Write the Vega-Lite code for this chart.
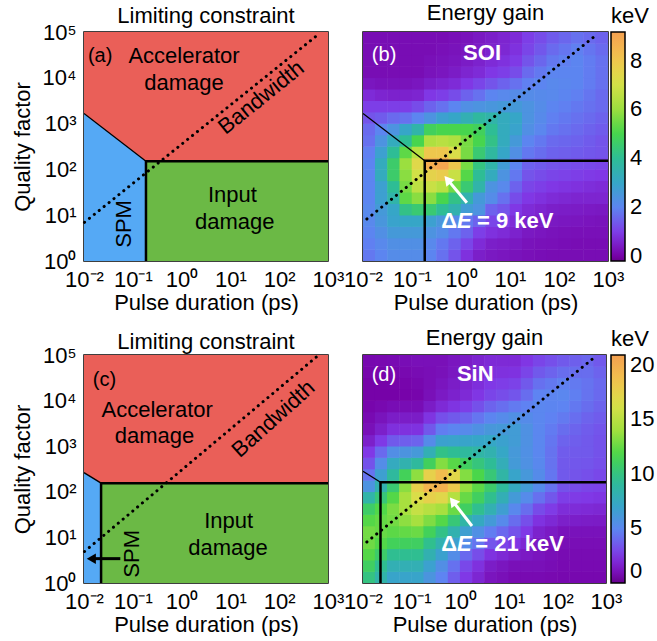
{
"$schema":"https://vega.github.io/schema/vega-lite/v6.json",
"background":"white",
"padding":{"left":10,"top":0,"right":0,"bottom":0},
"bounds":"flush",
"columns":2,
"spacing":{"row":94,"column":35},
"config":{
 "font":"Liberation Sans",
 "view":{"stroke":"black","strokeWidth":1.5},
 "axis":{"ticks":false,"domain":false,"grid":false,"labelFontSize":22,"titleFontSize":22,"titleFontWeight":"normal","labelFont":"Liberation Sans","titleFont":"Liberation Sans","labelColor":"black","titleColor":"black","labelPadding":8,"titlePadding":2,"labelFlush":false,"labelOverlap":false},
 "axisY":{"titlePadding":8,"labelPadding":8},
 "title":{"fontSize":22,"fontWeight":"normal","font":"Liberation Sans","baseline":"alphabetic","anchor":"middle","color":"black","frame":"group"},
 "text":{"font":"Liberation Sans"}
},
"datasets":{
"heatB":[
{"t":-1.875,"q":0.125,"e":1.8},{"t":-1.875,"q":0.375,"e":1.9},{"t":-1.875,"q":0.625,"e":2.0},{"t":-1.875,"q":0.875,"e":2.1},{"t":-1.875,"q":1.125,"e":2.1},{"t":-1.875,"q":1.375,"e":2.0},{"t":-1.875,"q":1.625,"e":2.0},{"t":-1.875,"q":1.875,"e":2.0},{"t":-1.875,"q":2.125,"e":2.0},{"t":-1.875,"q":2.375,"e":1.9},{"t":-1.875,"q":2.625,"e":1.7},{"t":-1.875,"q":2.875,"e":1.6},{"t":-1.875,"q":3.125,"e":1.3},{"t":-1.875,"q":3.375,"e":1.0},{"t":-1.875,"q":3.625,"e":0.7},{"t":-1.875,"q":3.875,"e":0.35},{"t":-1.875,"q":4.125,"e":0.2},{"t":-1.875,"q":4.375,"e":0.2},{"t":-1.875,"q":4.625,"e":0.2},{"t":-1.875,"q":4.875,"e":0.2},
{"t":-1.625,"q":0.125,"e":2.0},{"t":-1.625,"q":0.375,"e":2.1},{"t":-1.625,"q":0.625,"e":2.3},{"t":-1.625,"q":0.875,"e":2.5},{"t":-1.625,"q":1.125,"e":2.6},{"t":-1.625,"q":1.375,"e":2.8},{"t":-1.625,"q":1.625,"e":2.8},{"t":-1.625,"q":1.875,"e":3.2},{"t":-1.625,"q":2.125,"e":3.2},{"t":-1.625,"q":2.375,"e":2.8},{"t":-1.625,"q":2.625,"e":2.4},{"t":-1.625,"q":2.875,"e":2.0},{"t":-1.625,"q":3.125,"e":1.4},{"t":-1.625,"q":3.375,"e":1.0},{"t":-1.625,"q":3.625,"e":0.6},{"t":-1.625,"q":3.875,"e":0.3},{"t":-1.625,"q":4.125,"e":0.2},{"t":-1.625,"q":4.375,"e":0.2},{"t":-1.625,"q":4.625,"e":0.2},{"t":-1.625,"q":4.875,"e":0.2},
{"t":-1.375,"q":0.125,"e":2.2},{"t":-1.375,"q":0.375,"e":2.3},{"t":-1.375,"q":0.625,"e":2.6},{"t":-1.375,"q":0.875,"e":2.9},{"t":-1.375,"q":1.125,"e":3.0},{"t":-1.375,"q":1.375,"e":3.6},{"t":-1.375,"q":1.625,"e":4.0},{"t":-1.375,"q":1.875,"e":4.6},{"t":-1.375,"q":2.125,"e":4.6},{"t":-1.375,"q":2.375,"e":4.0},{"t":-1.375,"q":2.625,"e":3.2},{"t":-1.375,"q":2.875,"e":2.4},{"t":-1.375,"q":3.125,"e":1.6},{"t":-1.375,"q":3.375,"e":1.0},{"t":-1.375,"q":3.625,"e":0.55},{"t":-1.375,"q":3.875,"e":0.3},{"t":-1.375,"q":4.125,"e":0.2},{"t":-1.375,"q":4.375,"e":0.2},{"t":-1.375,"q":4.625,"e":0.2},{"t":-1.375,"q":4.875,"e":0.2},
{"t":-1.125,"q":0.125,"e":2.2},{"t":-1.125,"q":0.375,"e":2.3},{"t":-1.125,"q":0.625,"e":2.6},{"t":-1.125,"q":0.875,"e":3.0},{"t":-1.125,"q":1.125,"e":4.2},{"t":-1.125,"q":1.375,"e":5.3},{"t":-1.125,"q":1.625,"e":5.6},{"t":-1.125,"q":1.875,"e":5.8},{"t":-1.125,"q":2.125,"e":6.0},{"t":-1.125,"q":2.375,"e":5.3},{"t":-1.125,"q":2.625,"e":4.0},{"t":-1.125,"q":2.875,"e":3.0},{"t":-1.125,"q":3.125,"e":1.7},{"t":-1.125,"q":3.375,"e":1.0},{"t":-1.125,"q":3.625,"e":0.55},{"t":-1.125,"q":3.875,"e":0.3},{"t":-1.125,"q":4.125,"e":0.2},{"t":-1.125,"q":4.375,"e":0.2},{"t":-1.125,"q":4.625,"e":0.2},{"t":-1.125,"q":4.875,"e":0.2},
{"t":-0.875,"q":0.125,"e":2.2},{"t":-0.875,"q":0.375,"e":2.3},{"t":-0.875,"q":0.625,"e":2.6},{"t":-0.875,"q":0.875,"e":3.0},{"t":-0.875,"q":1.125,"e":4.5},{"t":-0.875,"q":1.375,"e":5.8},{"t":-0.875,"q":1.625,"e":6.6},{"t":-0.875,"q":1.875,"e":7.0},{"t":-0.875,"q":2.125,"e":7.4},{"t":-0.875,"q":2.375,"e":6.5},{"t":-0.875,"q":2.625,"e":5.0},{"t":-0.875,"q":2.875,"e":3.6},{"t":-0.875,"q":3.125,"e":2.0},{"t":-0.875,"q":3.375,"e":1.2},{"t":-0.875,"q":3.625,"e":0.6},{"t":-0.875,"q":3.875,"e":0.35},{"t":-0.875,"q":4.125,"e":0.2},{"t":-0.875,"q":4.375,"e":0.2},{"t":-0.875,"q":4.625,"e":0.2},{"t":-0.875,"q":4.875,"e":0.2},
{"t":-0.625,"q":0.125,"e":2.0},{"t":-0.625,"q":0.375,"e":2.1},{"t":-0.625,"q":0.625,"e":2.4},{"t":-0.625,"q":0.875,"e":2.8},{"t":-0.625,"q":1.125,"e":4.5},{"t":-0.625,"q":1.375,"e":5.8},{"t":-0.625,"q":1.625,"e":6.8},{"t":-0.625,"q":1.875,"e":7.6},{"t":-0.625,"q":2.125,"e":8.8},{"t":-0.625,"q":2.375,"e":8.0},{"t":-0.625,"q":2.625,"e":6.3},{"t":-0.625,"q":2.875,"e":4.8},{"t":-0.625,"q":3.125,"e":2.4},{"t":-0.625,"q":3.375,"e":1.5},{"t":-0.625,"q":3.625,"e":0.9},{"t":-0.625,"q":3.875,"e":0.5},{"t":-0.625,"q":4.125,"e":0.3},{"t":-0.625,"q":4.375,"e":0.25},{"t":-0.625,"q":4.625,"e":0.2},{"t":-0.625,"q":4.875,"e":0.2},
{"t":-0.375,"q":0.125,"e":1.7},{"t":-0.375,"q":0.375,"e":1.8},{"t":-0.375,"q":0.625,"e":2.2},{"t":-0.375,"q":0.875,"e":2.5},{"t":-0.375,"q":1.125,"e":4.0},{"t":-0.375,"q":1.375,"e":5.0},{"t":-0.375,"q":1.625,"e":6.5},{"t":-0.375,"q":1.875,"e":7.8},{"t":-0.375,"q":2.125,"e":9.0},{"t":-0.375,"q":2.375,"e":8.0},{"t":-0.375,"q":2.625,"e":6.5},{"t":-0.375,"q":2.875,"e":5.0},{"t":-0.375,"q":3.125,"e":2.8},{"t":-0.375,"q":3.375,"e":1.7},{"t":-0.375,"q":3.625,"e":1.0},{"t":-0.375,"q":3.875,"e":0.6},{"t":-0.375,"q":4.125,"e":0.35},{"t":-0.375,"q":4.375,"e":0.3},{"t":-0.375,"q":4.625,"e":0.25},{"t":-0.375,"q":4.875,"e":0.2},
{"t":-0.125,"q":0.125,"e":1.3},{"t":-0.125,"q":0.375,"e":1.5},{"t":-0.125,"q":0.625,"e":1.8},{"t":-0.125,"q":0.875,"e":2.2},{"t":-0.125,"q":1.125,"e":3.5},{"t":-0.125,"q":1.375,"e":4.2},{"t":-0.125,"q":1.625,"e":5.5},{"t":-0.125,"q":1.875,"e":6.8},{"t":-0.125,"q":2.125,"e":8.0},{"t":-0.125,"q":2.375,"e":7.2},{"t":-0.125,"q":2.625,"e":6.3},{"t":-0.125,"q":2.875,"e":5.0},{"t":-0.125,"q":3.125,"e":3.0},{"t":-0.125,"q":3.375,"e":2.0},{"t":-0.125,"q":3.625,"e":1.2},{"t":-0.125,"q":3.875,"e":0.7},{"t":-0.125,"q":4.125,"e":0.45},{"t":-0.125,"q":4.375,"e":0.35},{"t":-0.125,"q":4.625,"e":0.3},{"t":-0.125,"q":4.875,"e":0.25},
{"t":0.125,"q":0.125,"e":0.8},{"t":0.125,"q":0.375,"e":1.1},{"t":0.125,"q":0.625,"e":1.5},{"t":0.125,"q":0.875,"e":1.8},{"t":0.125,"q":1.125,"e":2.7},{"t":0.125,"q":1.375,"e":3.5},{"t":0.125,"q":1.625,"e":4.5},{"t":0.125,"q":1.875,"e":5.2},{"t":0.125,"q":2.125,"e":5.6},{"t":0.125,"q":2.375,"e":5.6},{"t":0.125,"q":2.625,"e":5.6},{"t":0.125,"q":2.875,"e":5.0},{"t":0.125,"q":3.125,"e":3.4},{"t":0.125,"q":3.375,"e":2.3},{"t":0.125,"q":3.625,"e":1.5},{"t":0.125,"q":3.875,"e":0.9},{"t":0.125,"q":4.125,"e":0.6},{"t":0.125,"q":4.375,"e":0.45},{"t":0.125,"q":4.625,"e":0.35},{"t":0.125,"q":4.875,"e":0.3},
{"t":0.375,"q":0.125,"e":0.5},{"t":0.375,"q":0.375,"e":0.7},{"t":0.375,"q":0.625,"e":1.0},{"t":0.375,"q":0.875,"e":1.5},{"t":0.375,"q":1.125,"e":2.4},{"t":0.375,"q":1.375,"e":2.6},{"t":0.375,"q":1.625,"e":3.6},{"t":0.375,"q":1.875,"e":4.0},{"t":0.375,"q":2.125,"e":4.3},{"t":0.375,"q":2.375,"e":4.5},{"t":0.375,"q":2.625,"e":5.0},{"t":0.375,"q":2.875,"e":4.8},{"t":0.375,"q":3.125,"e":3.8},{"t":0.375,"q":3.375,"e":2.4},{"t":0.375,"q":3.625,"e":1.7},{"t":0.375,"q":3.875,"e":1.1},{"t":0.375,"q":4.125,"e":0.7},{"t":0.375,"q":4.375,"e":0.55},{"t":0.375,"q":4.625,"e":0.45},{"t":0.375,"q":4.875,"e":0.4},
{"t":0.625,"q":0.125,"e":0.4},{"t":0.625,"q":0.375,"e":0.5},{"t":0.625,"q":0.625,"e":0.8},{"t":0.625,"q":0.875,"e":1.1},{"t":0.625,"q":1.125,"e":1.5},{"t":0.625,"q":1.375,"e":2.2},{"t":0.625,"q":1.625,"e":2.4},{"t":0.625,"q":1.875,"e":3.2},{"t":0.625,"q":2.125,"e":3.6},{"t":0.625,"q":2.375,"e":3.8},{"t":0.625,"q":2.625,"e":4.2},{"t":0.625,"q":2.875,"e":4.0},{"t":0.625,"q":3.125,"e":3.6},{"t":0.625,"q":3.375,"e":2.5},{"t":0.625,"q":3.625,"e":2.0},{"t":0.625,"q":3.875,"e":1.3},{"t":0.625,"q":4.125,"e":0.9},{"t":0.625,"q":4.375,"e":0.7},{"t":0.625,"q":4.625,"e":0.55},{"t":0.625,"q":4.875,"e":0.5},
{"t":0.875,"q":0.125,"e":0.35},{"t":0.875,"q":0.375,"e":0.45},{"t":0.875,"q":0.625,"e":0.7},{"t":0.875,"q":0.875,"e":1.0},{"t":0.875,"q":1.125,"e":1.3},{"t":0.875,"q":1.375,"e":1.7},{"t":0.875,"q":1.625,"e":2.1},{"t":0.875,"q":1.875,"e":2.4},{"t":0.875,"q":2.125,"e":2.7},{"t":0.875,"q":2.375,"e":3.0},{"t":0.875,"q":2.625,"e":3.2},{"t":0.875,"q":2.875,"e":3.2},{"t":0.875,"q":3.125,"e":3.2},{"t":0.875,"q":3.375,"e":2.6},{"t":0.875,"q":3.625,"e":2.1},{"t":0.875,"q":3.875,"e":1.5},{"t":0.875,"q":4.125,"e":1.0},{"t":0.875,"q":4.375,"e":0.8},{"t":0.875,"q":4.625,"e":0.65},{"t":0.875,"q":4.875,"e":0.6},
{"t":1.125,"q":0.125,"e":0.3},{"t":1.125,"q":0.375,"e":0.4},{"t":1.125,"q":0.625,"e":0.55},{"t":1.125,"q":0.875,"e":0.7},{"t":1.125,"q":1.125,"e":0.9},{"t":1.125,"q":1.375,"e":1.2},{"t":1.125,"q":1.625,"e":1.5},{"t":1.125,"q":1.875,"e":1.8},{"t":1.125,"q":2.125,"e":2.0},{"t":1.125,"q":2.375,"e":2.3},{"t":1.125,"q":2.625,"e":2.6},{"t":1.125,"q":2.875,"e":2.9},{"t":1.125,"q":3.125,"e":3.0},{"t":1.125,"q":3.375,"e":2.6},{"t":1.125,"q":3.625,"e":2.2},{"t":1.125,"q":3.875,"e":1.7},{"t":1.125,"q":4.125,"e":1.2},{"t":1.125,"q":4.375,"e":0.95},{"t":1.125,"q":4.625,"e":0.8},{"t":1.125,"q":4.875,"e":0.7},
{"t":1.375,"q":0.125,"e":0.25},{"t":1.375,"q":0.375,"e":0.3},{"t":1.375,"q":0.625,"e":0.4},{"t":1.375,"q":0.875,"e":0.55},{"t":1.375,"q":1.125,"e":0.7},{"t":1.375,"q":1.375,"e":0.9},{"t":1.375,"q":1.625,"e":1.1},{"t":1.375,"q":1.875,"e":1.3},{"t":1.375,"q":2.125,"e":1.5},{"t":1.375,"q":2.375,"e":1.8},{"t":1.375,"q":2.625,"e":2.0},{"t":1.375,"q":2.875,"e":2.3},{"t":1.375,"q":3.125,"e":2.4},{"t":1.375,"q":3.375,"e":2.4},{"t":1.375,"q":3.625,"e":2.2},{"t":1.375,"q":3.875,"e":1.9},{"t":1.375,"q":4.125,"e":1.6},{"t":1.375,"q":4.375,"e":1.3},{"t":1.375,"q":4.625,"e":1.1},{"t":1.375,"q":4.875,"e":1.0},
{"t":1.625,"q":0.125,"e":0.22},{"t":1.625,"q":0.375,"e":0.27},{"t":1.625,"q":0.625,"e":0.35},{"t":1.625,"q":0.875,"e":0.47},{"t":1.625,"q":1.125,"e":0.6},{"t":1.625,"q":1.375,"e":0.8},{"t":1.625,"q":1.625,"e":1.0},{"t":1.625,"q":1.875,"e":1.2},{"t":1.625,"q":2.125,"e":1.4},{"t":1.625,"q":2.375,"e":1.65},{"t":1.625,"q":2.625,"e":1.8},{"t":1.625,"q":2.875,"e":2.05},{"t":1.625,"q":3.125,"e":2.15},{"t":1.625,"q":3.375,"e":2.2},{"t":1.625,"q":3.625,"e":2.15},{"t":1.625,"q":3.875,"e":2.0},{"t":1.625,"q":4.125,"e":1.8},{"t":1.625,"q":4.375,"e":1.55},{"t":1.625,"q":4.625,"e":1.35},{"t":1.625,"q":4.875,"e":1.2},
{"t":1.875,"q":0.125,"e":0.2},{"t":1.875,"q":0.375,"e":0.25},{"t":1.875,"q":0.625,"e":0.3},{"t":1.875,"q":0.875,"e":0.4},{"t":1.875,"q":1.125,"e":0.5},{"t":1.875,"q":1.375,"e":0.7},{"t":1.875,"q":1.625,"e":0.9},{"t":1.875,"q":1.875,"e":1.1},{"t":1.875,"q":2.125,"e":1.3},{"t":1.875,"q":2.375,"e":1.5},{"t":1.875,"q":2.625,"e":1.6},{"t":1.875,"q":2.875,"e":1.8},{"t":1.875,"q":3.125,"e":1.9},{"t":1.875,"q":3.375,"e":2.0},{"t":1.875,"q":3.625,"e":2.1},{"t":1.875,"q":3.875,"e":2.1},{"t":1.875,"q":4.125,"e":2.0},{"t":1.875,"q":4.375,"e":1.8},{"t":1.875,"q":4.625,"e":1.6},{"t":1.875,"q":4.875,"e":1.4},
{"t":2.125,"q":0.125,"e":0.2},{"t":2.125,"q":0.375,"e":0.22},{"t":2.125,"q":0.625,"e":0.27},{"t":2.125,"q":0.875,"e":0.37},{"t":2.125,"q":1.125,"e":0.47},{"t":2.125,"q":1.375,"e":0.65},{"t":2.125,"q":1.625,"e":0.85},{"t":2.125,"q":1.875,"e":1.05},{"t":2.125,"q":2.125,"e":1.25},{"t":2.125,"q":2.375,"e":1.45},{"t":2.125,"q":2.625,"e":1.55},{"t":2.125,"q":2.875,"e":1.7},{"t":2.125,"q":3.125,"e":1.8},{"t":2.125,"q":3.375,"e":1.9},{"t":2.125,"q":3.625,"e":2.0},{"t":2.125,"q":3.875,"e":2.05},{"t":2.125,"q":4.125,"e":2.0},{"t":2.125,"q":4.375,"e":1.9},{"t":2.125,"q":4.625,"e":1.75},{"t":2.125,"q":4.875,"e":1.55},
{"t":2.375,"q":0.125,"e":0.2},{"t":2.375,"q":0.375,"e":0.2},{"t":2.375,"q":0.625,"e":0.25},{"t":2.375,"q":0.875,"e":0.35},{"t":2.375,"q":1.125,"e":0.45},{"t":2.375,"q":1.375,"e":0.6},{"t":2.375,"q":1.625,"e":0.8},{"t":2.375,"q":1.875,"e":1.0},{"t":2.375,"q":2.125,"e":1.2},{"t":2.375,"q":2.375,"e":1.4},{"t":2.375,"q":2.625,"e":1.5},{"t":2.375,"q":2.875,"e":1.6},{"t":2.375,"q":3.125,"e":1.7},{"t":2.375,"q":3.375,"e":1.8},{"t":2.375,"q":3.625,"e":1.9},{"t":2.375,"q":3.875,"e":2.0},{"t":2.375,"q":4.125,"e":2.0},{"t":2.375,"q":4.375,"e":2.0},{"t":2.375,"q":4.625,"e":1.9},{"t":2.375,"q":4.875,"e":1.7},
{"t":2.625,"q":0.125,"e":0.2},{"t":2.625,"q":0.375,"e":0.2},{"t":2.625,"q":0.625,"e":0.25},{"t":2.625,"q":0.875,"e":0.32},{"t":2.625,"q":1.125,"e":0.42},{"t":2.625,"q":1.375,"e":0.6},{"t":2.625,"q":1.625,"e":0.75},{"t":2.625,"q":1.875,"e":0.95},{"t":2.625,"q":2.125,"e":1.15},{"t":2.625,"q":2.375,"e":1.35},{"t":2.625,"q":2.625,"e":1.4},{"t":2.625,"q":2.875,"e":1.5},{"t":2.625,"q":3.125,"e":1.6},{"t":2.625,"q":3.375,"e":1.7},{"t":2.625,"q":3.625,"e":1.75},{"t":2.625,"q":3.875,"e":1.85},{"t":2.625,"q":4.125,"e":1.85},{"t":2.625,"q":4.375,"e":1.85},{"t":2.625,"q":4.625,"e":1.75},{"t":2.625,"q":4.875,"e":1.6},
{"t":2.875,"q":0.125,"e":0.2},{"t":2.875,"q":0.375,"e":0.2},{"t":2.875,"q":0.625,"e":0.25},{"t":2.875,"q":0.875,"e":0.3},{"t":2.875,"q":1.125,"e":0.4},{"t":2.875,"q":1.375,"e":0.6},{"t":2.875,"q":1.625,"e":0.7},{"t":2.875,"q":1.875,"e":0.9},{"t":2.875,"q":2.125,"e":1.1},{"t":2.875,"q":2.375,"e":1.3},{"t":2.875,"q":2.625,"e":1.3},{"t":2.875,"q":2.875,"e":1.4},{"t":2.875,"q":3.125,"e":1.5},{"t":2.875,"q":3.375,"e":1.6},{"t":2.875,"q":3.625,"e":1.6},{"t":2.875,"q":3.875,"e":1.7},{"t":2.875,"q":4.125,"e":1.7},{"t":2.875,"q":4.375,"e":1.7},{"t":2.875,"q":4.625,"e":1.6},{"t":2.875,"q":4.875,"e":1.5}
],
"heatD":[
{"t":-1.875,"q":0.125,"e":10},{"t":-1.875,"q":0.375,"e":11},{"t":-1.875,"q":0.625,"e":12},{"t":-1.875,"q":0.875,"e":12.7},{"t":-1.875,"q":1.125,"e":12.8},{"t":-1.875,"q":1.375,"e":12},{"t":-1.875,"q":1.625,"e":10.8},{"t":-1.875,"q":1.875,"e":8.5},{"t":-1.875,"q":2.125,"e":5.8},{"t":-1.875,"q":2.375,"e":4.3},{"t":-1.875,"q":2.625,"e":3.3},{"t":-1.875,"q":2.875,"e":2.5},{"t":-1.875,"q":3.125,"e":1.6},{"t":-1.875,"q":3.375,"e":1.0},{"t":-1.875,"q":3.625,"e":0.8},{"t":-1.875,"q":3.875,"e":0.6},{"t":-1.875,"q":4.125,"e":0.5},{"t":-1.875,"q":4.375,"e":0.5},{"t":-1.875,"q":4.625,"e":0.6},{"t":-1.875,"q":4.875,"e":0.7},
{"t":-1.625,"q":0.125,"e":8.5},{"t":-1.625,"q":0.375,"e":9.5},{"t":-1.625,"q":0.625,"e":10.75},{"t":-1.625,"q":0.875,"e":11.95},{"t":-1.625,"q":1.125,"e":12.5},{"t":-1.625,"q":1.375,"e":12.4},{"t":-1.625,"q":1.625,"e":11.9},{"t":-1.625,"q":1.875,"e":10.25},{"t":-1.625,"q":2.125,"e":8.15},{"t":-1.625,"q":2.375,"e":6.65},{"t":-1.625,"q":2.625,"e":5.4},{"t":-1.625,"q":2.875,"e":4.0},{"t":-1.625,"q":3.125,"e":2.55},{"t":-1.625,"q":3.375,"e":1.6},{"t":-1.625,"q":3.625,"e":1.15},{"t":-1.625,"q":3.875,"e":0.75},{"t":-1.625,"q":4.125,"e":0.5},{"t":-1.625,"q":4.375,"e":0.52},{"t":-1.625,"q":4.625,"e":0.62},{"t":-1.625,"q":4.875,"e":0.75},
{"t":-1.375,"q":0.125,"e":7},{"t":-1.375,"q":0.375,"e":8},{"t":-1.375,"q":0.625,"e":9.5},{"t":-1.375,"q":0.875,"e":11.2},{"t":-1.375,"q":1.125,"e":12.2},{"t":-1.375,"q":1.375,"e":12.8},{"t":-1.375,"q":1.625,"e":13},{"t":-1.375,"q":1.875,"e":12},{"t":-1.375,"q":2.125,"e":10.5},{"t":-1.375,"q":2.375,"e":9},{"t":-1.375,"q":2.625,"e":7.5},{"t":-1.375,"q":2.875,"e":5.5},{"t":-1.375,"q":3.125,"e":3.5},{"t":-1.375,"q":3.375,"e":2.2},{"t":-1.375,"q":3.625,"e":1.5},{"t":-1.375,"q":3.875,"e":0.9},{"t":-1.375,"q":4.125,"e":0.5},{"t":-1.375,"q":4.375,"e":0.55},{"t":-1.375,"q":4.625,"e":0.65},{"t":-1.375,"q":4.875,"e":0.8},
{"t":-1.125,"q":0.125,"e":7},{"t":-1.125,"q":0.375,"e":8},{"t":-1.125,"q":0.625,"e":9.5},{"t":-1.125,"q":0.875,"e":11.1},{"t":-1.125,"q":1.125,"e":12.4},{"t":-1.125,"q":1.375,"e":13.5},{"t":-1.125,"q":1.625,"e":14.25},{"t":-1.125,"q":1.875,"e":14.25},{"t":-1.125,"q":2.125,"e":13.4},{"t":-1.125,"q":2.375,"e":11.25},{"t":-1.125,"q":2.625,"e":8.25},{"t":-1.125,"q":2.875,"e":5.85},{"t":-1.125,"q":3.125,"e":3.65},{"t":-1.125,"q":3.375,"e":2.25},{"t":-1.125,"q":3.625,"e":1.5},{"t":-1.125,"q":3.875,"e":0.9},{"t":-1.125,"q":4.125,"e":0.55},{"t":-1.125,"q":4.375,"e":0.62},{"t":-1.125,"q":4.625,"e":0.75},{"t":-1.125,"q":4.875,"e":0.9},
{"t":-0.875,"q":0.125,"e":7},{"t":-0.875,"q":0.375,"e":8},{"t":-0.875,"q":0.625,"e":9.5},{"t":-0.875,"q":0.875,"e":11},{"t":-0.875,"q":1.125,"e":12.6},{"t":-0.875,"q":1.375,"e":14.2},{"t":-0.875,"q":1.625,"e":15.5},{"t":-0.875,"q":1.875,"e":16.5},{"t":-0.875,"q":2.125,"e":17.5},{"t":-0.875,"q":2.375,"e":13.5},{"t":-0.875,"q":2.625,"e":9},{"t":-0.875,"q":2.875,"e":6.2},{"t":-0.875,"q":3.125,"e":3.8},{"t":-0.875,"q":3.375,"e":2.3},{"t":-0.875,"q":3.625,"e":1.5},{"t":-0.875,"q":3.875,"e":0.9},{"t":-0.875,"q":4.125,"e":0.6},{"t":-0.875,"q":4.375,"e":0.7},{"t":-0.875,"q":4.625,"e":0.85},{"t":-0.875,"q":4.875,"e":1.0},
{"t":-0.625,"q":0.125,"e":5.9},{"t":-0.625,"q":0.375,"e":6.75},{"t":-0.625,"q":0.625,"e":8.15},{"t":-0.625,"q":0.875,"e":9.6},{"t":-0.625,"q":1.125,"e":11.2},{"t":-0.625,"q":1.375,"e":13.1},{"t":-0.625,"q":1.625,"e":14.85},{"t":-0.625,"q":1.875,"e":17.5},{"t":-0.625,"q":2.125,"e":19.5},{"t":-0.625,"q":2.375,"e":17.5},{"t":-0.625,"q":2.625,"e":11.1},{"t":-0.625,"q":2.875,"e":8.0},{"t":-0.625,"q":3.125,"e":5.3},{"t":-0.625,"q":3.375,"e":3.45},{"t":-0.625,"q":3.625,"e":2.35},{"t":-0.625,"q":3.875,"e":1.45},{"t":-0.625,"q":4.125,"e":1.0},{"t":-0.625,"q":4.375,"e":0.95},{"t":-0.625,"q":4.625,"e":0.95},{"t":-0.625,"q":4.875,"e":1.0},
{"t":-0.375,"q":0.125,"e":4.8},{"t":-0.375,"q":0.375,"e":5.5},{"t":-0.375,"q":0.625,"e":6.8},{"t":-0.375,"q":0.875,"e":8.2},{"t":-0.375,"q":1.125,"e":9.8},{"t":-0.375,"q":1.375,"e":12},{"t":-0.375,"q":1.625,"e":14.2},{"t":-0.375,"q":1.875,"e":17},{"t":-0.375,"q":2.125,"e":19.8},{"t":-0.375,"q":2.375,"e":19},{"t":-0.375,"q":2.625,"e":13.2},{"t":-0.375,"q":2.875,"e":9.8},{"t":-0.375,"q":3.125,"e":6.8},{"t":-0.375,"q":3.375,"e":4.6},{"t":-0.375,"q":3.625,"e":3.2},{"t":-0.375,"q":3.875,"e":2.0},{"t":-0.375,"q":4.125,"e":1.4},{"t":-0.375,"q":4.375,"e":1.2},{"t":-0.375,"q":4.625,"e":1.05},{"t":-0.375,"q":4.875,"e":1.0},
{"t":-0.125,"q":0.125,"e":3.65},{"t":-0.125,"q":0.375,"e":4.25},{"t":-0.125,"q":0.625,"e":5.4},{"t":-0.125,"q":0.875,"e":6.75},{"t":-0.125,"q":1.125,"e":8.2},{"t":-0.125,"q":1.375,"e":10.3},{"t":-0.125,"q":1.625,"e":12.6},{"t":-0.125,"q":1.875,"e":14.75},{"t":-0.125,"q":2.125,"e":18},{"t":-0.125,"q":2.375,"e":17},{"t":-0.125,"q":2.625,"e":12.1},{"t":-0.125,"q":2.875,"e":9.4},{"t":-0.125,"q":3.125,"e":6.9},{"t":-0.125,"q":3.375,"e":4.9},{"t":-0.125,"q":3.625,"e":3.5},{"t":-0.125,"q":3.875,"e":2.35},{"t":-0.125,"q":4.125,"e":1.7},{"t":-0.125,"q":4.375,"e":1.5},{"t":-0.125,"q":4.625,"e":1.3},{"t":-0.125,"q":4.875,"e":1.25},
{"t":0.125,"q":0.125,"e":2.5},{"t":0.125,"q":0.375,"e":3},{"t":0.125,"q":0.625,"e":4.0},{"t":0.125,"q":0.875,"e":5.3},{"t":0.125,"q":1.125,"e":6.6},{"t":0.125,"q":1.375,"e":8.6},{"t":0.125,"q":1.625,"e":11},{"t":0.125,"q":1.875,"e":12.5},{"t":0.125,"q":2.125,"e":13.7},{"t":0.125,"q":2.375,"e":13.2},{"t":0.125,"q":2.625,"e":11},{"t":0.125,"q":2.875,"e":9.0},{"t":0.125,"q":3.125,"e":7.0},{"t":0.125,"q":3.375,"e":5.2},{"t":0.125,"q":3.625,"e":3.8},{"t":0.125,"q":3.875,"e":2.7},{"t":0.125,"q":4.125,"e":2.0},{"t":0.125,"q":4.375,"e":1.8},{"t":0.125,"q":4.625,"e":1.6},{"t":0.125,"q":4.875,"e":1.5},
{"t":0.375,"q":0.125,"e":1.85},{"t":0.375,"q":0.375,"e":2.25},{"t":0.375,"q":0.625,"e":3.15},{"t":0.375,"q":0.875,"e":4.35},{"t":0.375,"q":1.125,"e":5.6},{"t":0.375,"q":1.375,"e":7.45},{"t":0.375,"q":1.625,"e":9.55},{"t":0.375,"q":1.875,"e":11.05},{"t":0.375,"q":2.125,"e":12.2},{"t":0.375,"q":2.375,"e":11.75},{"t":0.375,"q":2.625,"e":10.15},{"t":0.375,"q":2.875,"e":8.6},{"t":0.375,"q":3.125,"e":7.1},{"t":0.375,"q":3.375,"e":5.65},{"t":0.375,"q":3.625,"e":4.35},{"t":0.375,"q":3.875,"e":3.25},{"t":0.375,"q":4.125,"e":2.45},{"t":0.375,"q":4.375,"e":2.15},{"t":0.375,"q":4.625,"e":1.9},{"t":0.375,"q":4.875,"e":1.75},
{"t":0.625,"q":0.125,"e":1.2},{"t":0.625,"q":0.375,"e":1.5},{"t":0.625,"q":0.625,"e":2.3},{"t":0.625,"q":0.875,"e":3.4},{"t":0.625,"q":1.125,"e":4.6},{"t":0.625,"q":1.375,"e":6.3},{"t":0.625,"q":1.625,"e":8.1},{"t":0.625,"q":1.875,"e":9.6},{"t":0.625,"q":2.125,"e":10.7},{"t":0.625,"q":2.375,"e":10.3},{"t":0.625,"q":2.625,"e":9.3},{"t":0.625,"q":2.875,"e":8.2},{"t":0.625,"q":3.125,"e":7.2},{"t":0.625,"q":3.375,"e":6.1},{"t":0.625,"q":3.625,"e":4.9},{"t":0.625,"q":3.875,"e":3.8},{"t":0.625,"q":4.125,"e":2.9},{"t":0.625,"q":4.375,"e":2.5},{"t":0.625,"q":4.625,"e":2.2},{"t":0.625,"q":4.875,"e":2.0},
{"t":0.875,"q":0.125,"e":1.0},{"t":0.875,"q":0.375,"e":1.25},{"t":0.875,"q":0.625,"e":1.95},{"t":0.875,"q":0.875,"e":2.9},{"t":0.875,"q":1.125,"e":3.95},{"t":0.875,"q":1.375,"e":5.2},{"t":0.875,"q":1.625,"e":6.6},{"t":0.875,"q":1.875,"e":7.95},{"t":0.875,"q":2.125,"e":9.1},{"t":0.875,"q":2.375,"e":8.65},{"t":0.875,"q":2.625,"e":7.8},{"t":0.875,"q":2.875,"e":7.2},{"t":0.875,"q":3.125,"e":6.8},{"t":0.875,"q":3.375,"e":6.25},{"t":0.875,"q":3.625,"e":5.25},{"t":0.875,"q":3.875,"e":4.15},{"t":0.875,"q":4.125,"e":3.15},{"t":0.875,"q":4.375,"e":2.65},{"t":0.875,"q":4.625,"e":2.25},{"t":0.875,"q":4.875,"e":2.0},
{"t":1.125,"q":0.125,"e":0.8},{"t":1.125,"q":0.375,"e":1.0},{"t":1.125,"q":0.625,"e":1.6},{"t":1.125,"q":0.875,"e":2.4},{"t":1.125,"q":1.125,"e":3.3},{"t":1.125,"q":1.375,"e":4.1},{"t":1.125,"q":1.625,"e":5.1},{"t":1.125,"q":1.875,"e":6.3},{"t":1.125,"q":2.125,"e":7.5},{"t":1.125,"q":2.375,"e":7.0},{"t":1.125,"q":2.625,"e":6.3},{"t":1.125,"q":2.875,"e":6.2},{"t":1.125,"q":3.125,"e":6.4},{"t":1.125,"q":3.375,"e":6.4},{"t":1.125,"q":3.625,"e":5.6},{"t":1.125,"q":3.875,"e":4.5},{"t":1.125,"q":4.125,"e":3.4},{"t":1.125,"q":4.375,"e":2.8},{"t":1.125,"q":4.625,"e":2.3},{"t":1.125,"q":4.875,"e":2.0},
{"t":1.375,"q":0.125,"e":0.8},{"t":1.375,"q":0.375,"e":1.0},{"t":1.375,"q":0.625,"e":1.4},{"t":1.375,"q":0.875,"e":1.9},{"t":1.375,"q":1.125,"e":2.5},{"t":1.375,"q":1.375,"e":3.2},{"t":1.375,"q":1.625,"e":4.1},{"t":1.375,"q":1.875,"e":5.25},{"t":1.375,"q":2.125,"e":6.4},{"t":1.375,"q":2.375,"e":6.15},{"t":1.375,"q":2.625,"e":5.7},{"t":1.375,"q":2.875,"e":5.6},{"t":1.375,"q":3.125,"e":5.7},{"t":1.375,"q":3.375,"e":5.7},{"t":1.375,"q":3.625,"e":5.3},{"t":1.375,"q":3.875,"e":4.75},{"t":1.375,"q":4.125,"e":4.1},{"t":1.375,"q":4.375,"e":3.5},{"t":1.375,"q":4.625,"e":2.9},{"t":1.375,"q":4.875,"e":2.45},
{"t":1.625,"q":0.125,"e":0.8},{"t":1.625,"q":0.375,"e":1.0},{"t":1.625,"q":0.625,"e":1.2},{"t":1.625,"q":0.875,"e":1.4},{"t":1.625,"q":1.125,"e":1.7},{"t":1.625,"q":1.375,"e":2.3},{"t":1.625,"q":1.625,"e":3.1},{"t":1.625,"q":1.875,"e":4.2},{"t":1.625,"q":2.125,"e":5.3},{"t":1.625,"q":2.375,"e":5.3},{"t":1.625,"q":2.625,"e":5.1},{"t":1.625,"q":2.875,"e":5.0},{"t":1.625,"q":3.125,"e":5.0},{"t":1.625,"q":3.375,"e":5.0},{"t":1.625,"q":3.625,"e":5.0},{"t":1.625,"q":3.875,"e":5.0},{"t":1.625,"q":4.125,"e":4.8},{"t":1.625,"q":4.375,"e":4.2},{"t":1.625,"q":4.625,"e":3.5},{"t":1.625,"q":4.875,"e":2.9},
{"t":1.875,"q":0.125,"e":0.75},{"t":1.875,"q":0.375,"e":0.9},{"t":1.875,"q":0.625,"e":1.02},{"t":1.875,"q":0.875,"e":1.18},{"t":1.875,"q":1.125,"e":1.4},{"t":1.875,"q":1.375,"e":1.95},{"t":1.875,"q":1.625,"e":2.6},{"t":1.875,"q":1.875,"e":3.45},{"t":1.875,"q":2.125,"e":4.3},{"t":1.875,"q":2.375,"e":4.4},{"t":1.875,"q":2.625,"e":4.3},{"t":1.875,"q":2.875,"e":4.3},{"t":1.875,"q":3.125,"e":4.4},{"t":1.875,"q":3.375,"e":4.55},{"t":1.875,"q":3.625,"e":4.75},{"t":1.875,"q":3.875,"e":4.9},{"t":1.875,"q":4.125,"e":4.9},{"t":1.875,"q":4.375,"e":4.45},{"t":1.875,"q":4.625,"e":3.8},{"t":1.875,"q":4.875,"e":3.2},
{"t":2.125,"q":0.125,"e":0.7},{"t":2.125,"q":0.375,"e":0.8},{"t":2.125,"q":0.625,"e":0.85},{"t":2.125,"q":0.875,"e":0.95},{"t":2.125,"q":1.125,"e":1.1},{"t":2.125,"q":1.375,"e":1.6},{"t":2.125,"q":1.625,"e":2.1},{"t":2.125,"q":1.875,"e":2.7},{"t":2.125,"q":2.125,"e":3.3},{"t":2.125,"q":2.375,"e":3.5},{"t":2.125,"q":2.625,"e":3.5},{"t":2.125,"q":2.875,"e":3.6},{"t":2.125,"q":3.125,"e":3.8},{"t":2.125,"q":3.375,"e":4.1},{"t":2.125,"q":3.625,"e":4.5},{"t":2.125,"q":3.875,"e":4.8},{"t":2.125,"q":4.125,"e":5.0},{"t":2.125,"q":4.375,"e":4.7},{"t":2.125,"q":4.625,"e":4.1},{"t":2.125,"q":4.875,"e":3.5},
{"t":2.375,"q":0.125,"e":0.7},{"t":2.375,"q":0.375,"e":0.8},{"t":2.375,"q":0.625,"e":0.85},{"t":2.375,"q":0.875,"e":0.95},{"t":2.375,"q":1.125,"e":1.1},{"t":2.375,"q":1.375,"e":1.55},{"t":2.375,"q":1.625,"e":2.05},{"t":2.375,"q":1.875,"e":2.6},{"t":2.375,"q":2.125,"e":3.1},{"t":2.375,"q":2.375,"e":3.35},{"t":2.375,"q":2.625,"e":3.45},{"t":2.375,"q":2.875,"e":3.55},{"t":2.375,"q":3.125,"e":3.65},{"t":2.375,"q":3.375,"e":3.85},{"t":2.375,"q":3.625,"e":4.15},{"t":2.375,"q":3.875,"e":4.45},{"t":2.375,"q":4.125,"e":4.65},{"t":2.375,"q":4.375,"e":4.5},{"t":2.375,"q":4.625,"e":4.1},{"t":2.375,"q":4.875,"e":3.7},
{"t":2.625,"q":0.125,"e":0.7},{"t":2.625,"q":0.375,"e":0.8},{"t":2.625,"q":0.625,"e":0.85},{"t":2.625,"q":0.875,"e":0.95},{"t":2.625,"q":1.125,"e":1.1},{"t":2.625,"q":1.375,"e":1.5},{"t":2.625,"q":1.625,"e":2.0},{"t":2.625,"q":1.875,"e":2.5},{"t":2.625,"q":2.125,"e":2.9},{"t":2.625,"q":2.375,"e":3.2},{"t":2.625,"q":2.625,"e":3.4},{"t":2.625,"q":2.875,"e":3.5},{"t":2.625,"q":3.125,"e":3.5},{"t":2.625,"q":3.375,"e":3.6},{"t":2.625,"q":3.625,"e":3.8},{"t":2.625,"q":3.875,"e":4.1},{"t":2.625,"q":4.125,"e":4.3},{"t":2.625,"q":4.375,"e":4.3},{"t":2.625,"q":4.625,"e":4.1},{"t":2.625,"q":4.875,"e":3.9},
{"t":2.875,"q":0.125,"e":0.7},{"t":2.875,"q":0.375,"e":0.8},{"t":2.875,"q":0.625,"e":0.85},{"t":2.875,"q":0.875,"e":0.95},{"t":2.875,"q":1.125,"e":1.1},{"t":2.875,"q":1.375,"e":1.45},{"t":2.875,"q":1.625,"e":1.9},{"t":2.875,"q":1.875,"e":2.4},{"t":2.875,"q":2.125,"e":2.8},{"t":2.875,"q":2.375,"e":3.0},{"t":2.875,"q":2.625,"e":3.2},{"t":2.875,"q":2.875,"e":3.3},{"t":2.875,"q":3.125,"e":3.3},{"t":2.875,"q":3.375,"e":3.4},{"t":2.875,"q":3.625,"e":3.6},{"t":2.875,"q":3.875,"e":3.8},{"t":2.875,"q":4.125,"e":4.0},{"t":2.875,"q":4.375,"e":4.0},{"t":2.875,"q":4.625,"e":3.8},{"t":2.875,"q":4.875,"e":3.5}
]
},
"resolve":{"scale":{"color":"independent","x":"independent","y":"independent"},"legend":{"color":"independent"}},
"concat":[
 {"width":244,"height":229,
  "title":{"text":"Limiting constraint","offset":-6.5},
  "encoding":{
   "x":{"field":"t","type":"quantitative","scale":{"domain":[-2,3],"nice":false,"zero":false},"axis":{"values":[-2,-1,0,1,2,3],"labelExpr":"['10⁻²','10⁻¹','10⁰','10¹','10²','10³'][datum.value+2]","title":"Pulse duration (ps)"}},
   "y":{"field":"q","type":"quantitative","scale":{"domain":[0,5],"nice":false,"zero":false},"axis":{"values":[0,1,2,3,4,5],"labelExpr":"['10⁰','10¹','10²','10³','10⁴','10⁵'][datum.value]","title":"Quality factor"}}
  },
  "layer":[
   {"data":{"values":[{"t":-2,"t2":3,"q":0,"q2":5,"zone":"Accelerator damage"},{"t":-0.73,"t2":3,"q":0,"q2":2.18,"zone":"Input damage"}]},
    "mark":{"type":"rect"},
    "encoding":{"x2":{"field":"t2"},"y2":{"field":"q2"},"color":{"field":"zone","type":"nominal","scale":{"domain":["Accelerator damage","Input damage","SPM"],"range":["#ea5f58","#6bb945","#55a9f5"]},"legend":null}}},
   {"data":{"values":[{"t":-2,"q":3.22,"q2":0,"zone":"SPM"},{"t":-0.73,"q":2.18,"q2":0,"zone":"SPM"}]},
    "mark":{"type":"area","opacity":1},
    "encoding":{"y2":{"field":"q2"},"color":{"field":"zone","type":"nominal","legend":null}}},
   {"data":{"values":[{"t":-2,"q":3.22},{"t":-0.73,"q":2.18}]},"mark":{"type":"line","color":"black","strokeWidth":1.3,"clip":true},"encoding":{}},
   {"data":{"values":[{"t":3,"q":2.18,"i":0},{"t":-0.73,"q":2.18,"i":1},{"t":-0.73,"q":0,"i":2}]},"mark":{"type":"line","color":"black","strokeWidth":2.5,"clip":true},"encoding":{"order":{"field":"i"}}},
   {"data":{"values":[{"t":-1.99,"q":0.845},{"t":2.77,"q":4.92}]},"mark":{"type":"line","color":"black","strokeWidth":3,"strokeDash":[0.1,6.2],"strokeCap":"round"},"encoding":{}},
   {"data":{"values":[{"t":0.05,"q":4.32,"label":"Accelerator"},{"t":0.05,"q":3.73,"label":"damage"},{"t":1.04,"q":1.29,"label":"Input"},{"t":1.09,"q":0.7,"label":"damage"}]},
    "mark":{"type":"text","fontSize":22,"align":"center","baseline":"alphabetic","color":"black"},"encoding":{"text":{"field":"label"}}},
   {"data":{"values":[{"t":-1.67,"q":4.34,"label":"(a)"}]},"mark":{"type":"text","fontSize":20,"align":"center","baseline":"alphabetic","color":"black"},"encoding":{"text":{"field":"label"}}},
   {"data":{"values":[{"t":1.63,"q":3.57,"label":"Bandwidth"}]},"mark":{"type":"text","fontSize":22,"align":"center","baseline":"middle","angle":321,"color":"black"},"encoding":{"text":{"field":"label"}}},
   {"data":{"values":[{"t":-1.19,"q":0.81,"label":"SPM"}]},"mark":{"type":"text","fontSize":22,"align":"center","baseline":"middle","angle":270,"color":"black"},"encoding":{"text":{"field":"label"}}}
  ]},
 {"width":245,"height":229,
  "title":{"text":"Energy gain","offset":-18.5},
  "encoding":{
   "x":{"field":"t","type":"quantitative","scale":{"domain":[-2,3],"nice":false,"zero":false},"axis":{"values":[-2,-1,0,1,2,3],"labelExpr":"['10⁻²','10⁻¹','10⁰','10¹','10²','10³'][datum.value+2]","title":"Pulse duration (ps)"}},
   "y":{"field":"q","type":"quantitative","scale":{"domain":[0,5],"nice":false,"zero":false},"axis":null}
  },
  "layer":[
   {"data":{"name":"heatB"},"mark":{"type":"rect","width":12.8,"height":12,"clip":true},
    "encoding":{"color":{"field":"e","type":"quantitative","scale":{"type":"linear","domain":[-0.2,-0.01,0.92,1.96,2.99,4.02,5.05,6.08,7.11,8.14,9.17],"range":["#66008c","#7600a6","#8038e6","#5e84f2","#36a6c8","#2ebd94","#48d64a","#a2e03e","#d8e048","#f2c24e","#f4a050"],"interpolate":"rgb","clamp":true},
     "legend":{"title":"keV","orient":"none","legendX":248,"legendY":-26,"direction":"vertical","gradientLength":229,"gradientThickness":14,"values":[0,2,4,6,8],"labelFontSize":22,"labelFont":"Liberation Sans","titleFont":"Liberation Sans","titleFontSize":22,"titleFontWeight":"normal","titleColor":"black","labelColor":"black","labelOffset":5,"labelBaseline":"middle","gradientStrokeColor":"black","gradientStrokeWidth":1.5,"padding":0,"titlePadding":4,"labelOverlap":false,"titleAnchor":"start"}}}},
   {"data":{"values":[{"t":-2,"q":3.22},{"t":-0.74,"q":2.19}]},"mark":{"type":"line","color":"black","strokeWidth":1.3,"clip":true},"encoding":{}},
   {"data":{"values":[{"t":3,"q":2.19,"i":0},{"t":-0.74,"q":2.19,"i":1},{"t":-0.74,"q":0,"i":2}]},"mark":{"type":"line","color":"black","strokeWidth":2.5,"clip":true},"encoding":{"order":{"field":"i"}}},
   {"data":{"values":[{"t":-1.92,"q":0.917},{"t":2.79,"q":4.96}]},"mark":{"type":"line","color":"black","strokeWidth":3,"strokeDash":[0.1,6.2],"strokeCap":"round"},"encoding":{}},
   {"data":{"values":[{"t":0.12,"q":1.27,"t2":-0.275,"q2":1.776}]},"mark":{"type":"rule","color":"white","strokeWidth":3},"encoding":{"x2":{"field":"t2"},"y2":{"field":"q2"}}},
   {"data":{"values":[{"t":-0.275,"q":1.776}]},"mark":{"type":"point","shape":"triangle-up","filled":true,"color":"white","opacity":1,"size":120,"angle":320},"encoding":{}},
   {"data":{"values":[{"t":-1.57,"q":4.36,"label":"(b)"}]},"mark":{"type":"text","fontSize":20,"align":"center","baseline":"alphabetic","color":"white"},"encoding":{"text":{"field":"label"}}},
   {"data":{"values":[{"t":0.43,"q":4.38,"label":"SOI"}]},"mark":{"type":"text","fontSize":22,"fontWeight":"bold","align":"center","baseline":"alphabetic","color":"white"},"encoding":{"text":{"field":"label"}}},
   {"data":{"values":[{"t":-0.082,"q":0.72,"label":"Δ"}]},"mark":{"type":"text","fontSize":22,"fontWeight":"bold","align":"right","baseline":"alphabetic","color":"white"},"encoding":{"text":{"field":"label"}}},
   {"data":{"values":[{"t":-0.082,"q":0.72,"label":"E"}]},"mark":{"type":"text","fontSize":22,"fontWeight":"bold","fontStyle":"italic","align":"left","baseline":"alphabetic","color":"white"},"encoding":{"text":{"field":"label"}}},
   {"data":{"values":[{"t":0.327,"q":0.72,"label":"= 9 keV"}]},"mark":{"type":"text","fontSize":22,"fontWeight":"bold","align":"left","baseline":"alphabetic","color":"white"},"encoding":{"text":{"field":"label"}}}
  ]},
 {"width":244,"height":228,
  "title":{"text":"Limiting constraint","offset":-9.5},
  "encoding":{
   "x":{"field":"t","type":"quantitative","scale":{"domain":[-2,3],"nice":false,"zero":false},"axis":{"values":[-2,-1,0,1,2,3],"labelExpr":"['10⁻²','10⁻¹','10⁰','10¹','10²','10³'][datum.value+2]","title":"Pulse duration (ps)"}},
   "y":{"field":"q","type":"quantitative","scale":{"domain":[0,5],"nice":false,"zero":false},"axis":{"values":[0,1,2,3,4,5],"labelExpr":"['10⁰','10¹','10²','10³','10⁴','10⁵'][datum.value]","title":"Quality factor"}}
  },
  "layer":[
   {"data":{"values":[{"t":-2,"t2":3,"q":0,"q2":5,"zone":"Accelerator damage"},{"t":-1.65,"t2":3,"q":0,"q2":2.19,"zone":"Input damage"}]},
    "mark":{"type":"rect"},
    "encoding":{"x2":{"field":"t2"},"y2":{"field":"q2"},"color":{"field":"zone","type":"nominal","scale":{"domain":["Accelerator damage","Input damage","SPM"],"range":["#ea5f58","#6bb945","#55a9f5"]},"legend":null}}},
   {"data":{"values":[{"t":-2,"q":2.42,"q2":0,"zone":"SPM"},{"t":-1.65,"q":2.19,"q2":0,"zone":"SPM"}]},
    "mark":{"type":"area","opacity":1},
    "encoding":{"y2":{"field":"q2"},"color":{"field":"zone","type":"nominal","legend":null}}},
   {"data":{"values":[{"t":-2,"q":2.42},{"t":-1.65,"q":2.19}]},"mark":{"type":"line","color":"black","strokeWidth":1.3,"clip":true},"encoding":{}},
   {"data":{"values":[{"t":3,"q":2.19,"i":0},{"t":-1.65,"q":2.19,"i":1},{"t":-1.65,"q":0,"i":2}]},"mark":{"type":"line","color":"black","strokeWidth":2.5,"clip":true},"encoding":{"order":{"field":"i"}}},
   {"data":{"values":[{"t":-1.99,"q":0.69},{"t":2.81,"q":5.0}]},"mark":{"type":"line","color":"black","strokeWidth":3,"strokeDash":[0.1,6.2],"strokeCap":"round"},"encoding":{}},
   {"data":{"values":[{"t":-1.256,"q":0.534,"t2":-1.85,"q2":0.534}]},"mark":{"type":"rule","color":"black","strokeWidth":3},"encoding":{"x2":{"field":"t2"},"y2":{"field":"q2"}}},
   {"data":{"values":[{"t":-1.85,"q":0.534}]},"mark":{"type":"point","shape":"triangle-left","filled":true,"color":"black","opacity":1,"size":110},"encoding":{}},
   {"data":{"values":[{"t":-0.5,"q":3.65,"label":"Accelerator"},{"t":-0.555,"q":3.06,"label":"damage"},{"t":0.965,"q":1.215,"label":"Input"},{"t":0.95,"q":0.61,"label":"damage"}]},
    "mark":{"type":"text","fontSize":22,"align":"center","baseline":"alphabetic","color":"black"},"encoding":{"text":{"field":"label"}}},
   {"data":{"values":[{"t":-1.58,"q":4.33,"label":"(c)"}]},"mark":{"type":"text","fontSize":20,"align":"center","baseline":"alphabetic","color":"black"},"encoding":{"text":{"field":"label"}}},
   {"data":{"values":[{"t":1.88,"q":3.6,"label":"Bandwidth"}]},"mark":{"type":"text","fontSize":22,"align":"center","baseline":"middle","angle":318,"color":"black"},"encoding":{"text":{"field":"label"}}},
   {"data":{"values":[{"t":-1.02,"q":0.64,"label":"SPM"}]},"mark":{"type":"text","fontSize":22,"align":"center","baseline":"middle","angle":270,"color":"black"},"encoding":{"text":{"field":"label"}}}
  ]},
 {"width":243,"height":228,
  "title":{"text":"Energy gain","offset":-20.5},
  "encoding":{
   "x":{"field":"t","type":"quantitative","scale":{"domain":[-2,3],"nice":false,"zero":false},"axis":{"values":[-2,-1,0,1,2,3],"labelExpr":"['10⁻²','10⁻¹','10⁰','10¹','10²','10³'][datum.value+2]","title":"Pulse duration (ps)"}},
   "y":{"field":"q","type":"quantitative","scale":{"domain":[0,5],"nice":false,"zero":false},"axis":null}
  },
  "layer":[
   {"data":{"name":"heatD"},"mark":{"type":"rect","width":12.7,"height":12,"clip":true},
    "encoding":{"color":{"field":"e","type":"quantitative","scale":{"type":"linear","domain":[0,0.42,2.51,4.81,7.11,9.41,11.7,14.0,16.3,18.6,20.9],"range":["#66008c","#7600a6","#8038e6","#5e84f2","#36a6c8","#2ebd94","#48d64a","#a2e03e","#d8e048","#f2c24e","#f4a050"],"interpolate":"rgb","clamp":true},
     "legend":{"title":"keV","orient":"none","legendX":248,"legendY":-26,"direction":"vertical","gradientLength":228,"gradientThickness":14,"values":[0,5,10,15,20],"labelFontSize":22,"labelFont":"Liberation Sans","titleFont":"Liberation Sans","titleFontSize":22,"titleFontWeight":"normal","titleColor":"black","labelColor":"black","labelOffset":5,"labelBaseline":"middle","gradientStrokeColor":"black","gradientStrokeWidth":1.5,"padding":0,"titlePadding":4,"labelOverlap":false,"titleAnchor":"start"}}}},
   {"data":{"values":[{"t":-2,"q":2.45},{"t":-1.64,"q":2.21}]},"mark":{"type":"line","color":"black","strokeWidth":1.3,"clip":true},"encoding":{}},
   {"data":{"values":[{"t":3,"q":2.21,"i":0},{"t":-1.64,"q":2.21,"i":1},{"t":-1.64,"q":0,"i":2}]},"mark":{"type":"line","color":"black","strokeWidth":2.5,"clip":true},"encoding":{"order":{"field":"i"}}},
   {"data":{"values":[{"t":-1.92,"q":0.9},{"t":2.8,"q":4.98}]},"mark":{"type":"line","color":"black","strokeWidth":3,"strokeDash":[0.1,6.2],"strokeCap":"round"},"encoding":{}},
   {"data":{"values":[{"t":0.243,"q":1.25,"t2":-0.152,"q2":1.793}]},"mark":{"type":"rule","color":"white","strokeWidth":3},"encoding":{"x2":{"field":"t2"},"y2":{"field":"q2"}}},
   {"data":{"values":[{"t":-0.152,"q":1.793}]},"mark":{"type":"point","shape":"triangle-up","filled":true,"color":"white","opacity":1,"size":120,"angle":322},"encoding":{}},
   {"data":{"values":[{"t":-1.57,"q":4.42,"label":"(d)"}]},"mark":{"type":"text","fontSize":20,"align":"center","baseline":"alphabetic","color":"white"},"encoding":{"text":{"field":"label"}}},
   {"data":{"values":[{"t":0.31,"q":4.42,"label":"SiN"}]},"mark":{"type":"text","fontSize":22,"fontWeight":"bold","align":"center","baseline":"alphabetic","color":"white"},"encoding":{"text":{"field":"label"}}},
   {"data":{"values":[{"t":-0.066,"q":0.7,"label":"Δ"}]},"mark":{"type":"text","fontSize":22,"fontWeight":"bold","align":"right","baseline":"alphabetic","color":"white"},"encoding":{"text":{"field":"label"}}},
   {"data":{"values":[{"t":-0.066,"q":0.7,"label":"E"}]},"mark":{"type":"text","fontSize":22,"fontWeight":"bold","fontStyle":"italic","align":"left","baseline":"alphabetic","color":"white"},"encoding":{"text":{"field":"label"}}},
   {"data":{"values":[{"t":0.311,"q":0.7,"label":"= 21 keV"}]},"mark":{"type":"text","fontSize":22,"fontWeight":"bold","align":"left","baseline":"alphabetic","color":"white"},"encoding":{"text":{"field":"label"}}}
  ]}
]
}
